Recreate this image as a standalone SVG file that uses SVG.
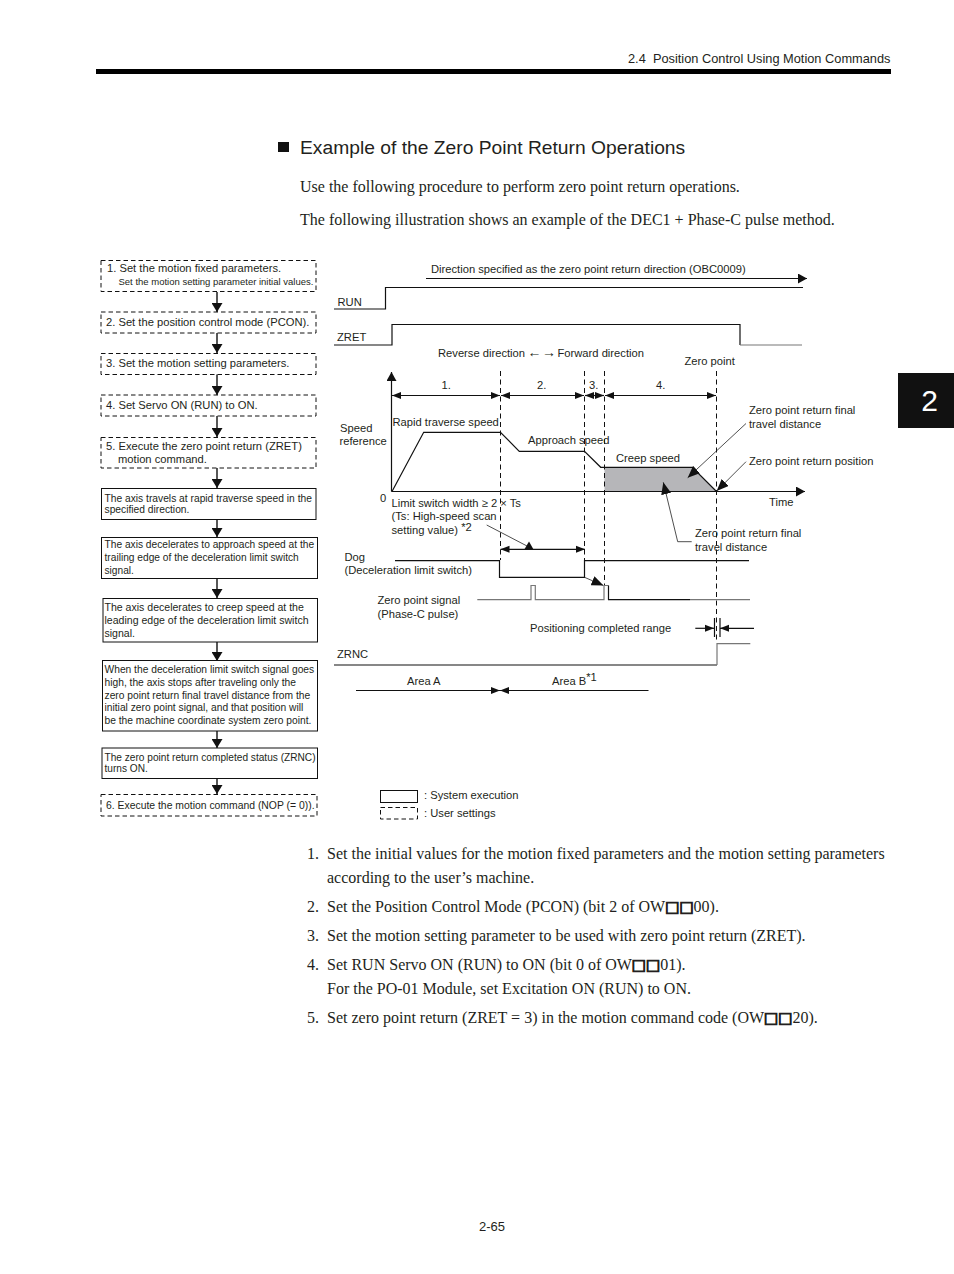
<svg xmlns="http://www.w3.org/2000/svg" width="954" height="1274" viewBox="0 0 954 1274">
<style>
text{font-family:"Liberation Sans",Arial,sans-serif;fill:#231f20}
.s{font-size:11.2px}.t{font-size:11.2px}
.b{font-family:"Liberation Serif","Times New Roman",serif;font-size:16px}
.q{font-family:"DejaVu Sans",sans-serif;font-size:15px;stroke:#231f20;stroke-width:1}
.box{fill:#fff;stroke:#111;stroke-width:1}
.dash{fill:#fff;stroke:#111;stroke-width:1;stroke-dasharray:4.5 3}
.ln{fill:none;stroke:#111;stroke-width:1.2}
.fl{fill:none;stroke:#111;stroke-width:1.4}
.gr{fill:none;stroke:#777;stroke-width:1.2}
.thin{fill:none;stroke:#222;stroke-width:.8}
.dv{fill:none;stroke:#111;stroke-width:1;stroke-dasharray:5 3.5}
.h{fill:#111}
</style>
<defs>
<marker id="f" markerWidth="9" markerHeight="11" refX="9" refY="5.500" orient="auto" markerUnits="userSpaceOnUse"><path d="M0 0L9 5.500L0 11Z" fill="#111"/></marker>
<marker id="a" markerWidth="9" markerHeight="10" refX="9" refY="5" orient="auto" markerUnits="userSpaceOnUse"><path d="M0 0L9 5L0 10Z" fill="#111"/></marker>
<marker id="m" markerWidth="9" markerHeight="8" refX="9" refY="4" orient="auto-start-reverse" markerUnits="userSpaceOnUse"><path d="M0 0.500L9 4L0 7.500Z" fill="#111"/></marker>
<marker id="l" markerWidth="12" markerHeight="10" refX="12" refY="5" orient="auto" markerUnits="userSpaceOnUse"><path d="M0 0L12 5L0 10Z" fill="#111"/></marker>
</defs>

<g id="page-header">
<text x="628" y="63" font-size="12.8">2.4&#160; Position Control Using Motion Commands</text>
<rect x="96" y="69" width="795" height="5" fill="#000"/>
<rect x="898" y="373" width="56" height="55" fill="#111"/>
<text x="929.500" y="411" font-size="30" text-anchor="middle" style="fill:#fff">2</text>
</g>

<g id="intro">
<rect x="278" y="142" width="11" height="10" fill="#111"/>
<text x="300" y="154" font-size="19.25">Example of the Zero Point Return Operations</text>
<text class="b" x="300" y="192">Use the following procedure to perform zero point return operations.</text>
<text class="b" x="300" y="225">The following illustration shows an example of the DEC1 + Phase-C pulse method.</text>
</g>

<g id="flow-connectors">
<path class="fl" marker-end="url(#f)" d="M217 292V312"/>
<path class="fl" marker-end="url(#f)" d="M217 333V353"/>
<path class="fl" marker-end="url(#f)" d="M217 374V395"/>
<path class="fl" marker-end="url(#f)" d="M217 416V437"/>
<path class="fl" marker-end="url(#f)" d="M217 468V488"/>
<path class="fl" marker-end="url(#f)" d="M217 519V537"/>
<path class="fl" marker-end="url(#f)" d="M217 579V598"/>
<path class="fl" marker-end="url(#f)" d="M217 642V661"/>
<path class="fl" marker-end="url(#f)" d="M217 731V748"/>
<path class="fl" marker-end="url(#f)" d="M217 778V794"/>
</g>

<g id="step-1"><rect class="dash" x="101" y="260.500" width="215" height="31"/>
<text class="t" x="107" y="272">1. Set the motion fixed parameters.</text>
<text x="118.500" y="285" font-size="9.5">Set the motion setting parameter initial values.</text></g>
<g id="step-2"><rect class="dash" x="101" y="312" width="215" height="21"/>
<text class="t" x="106" y="326">2. Set the position control mode (PCON).</text></g>
<g id="step-3"><rect class="dash" x="101" y="353.500" width="215" height="21"/>
<text class="t" x="106" y="367">3. Set the motion setting parameters.</text></g>
<g id="step-4"><rect class="dash" x="101" y="395" width="215" height="21"/>
<text class="t" x="106" y="409">4. Set Servo ON (RUN) to ON.</text></g>
<g id="step-5"><rect class="dash" x="101" y="437.500" width="215" height="30.500"/>
<text class="t" x="106" y="450">5. Execute the zero point return (ZRET)</text>
<text class="t" x="118" y="463">motion command.</text></g>
<g id="sys-1" font-size="10.25"><rect class="box" x="101.500" y="488.500" width="214.500" height="31"/>
<text x="104.500" y="502">The axis travels at rapid traverse speed in the</text>
<text x="104.500" y="513">specified direction.</text></g>
<g id="sys-2" font-size="10.2"><rect class="box" x="101.500" y="537.500" width="216" height="41"/>
<text x="104.500" y="548">The axis decelerates to approach speed at the</text>
<text x="104.500" y="561">trailing edge of the deceleration limit switch</text>
<text x="104.500" y="574">signal.</text></g>
<g id="sys-3" font-size="10.55"><rect class="box" x="103" y="598.500" width="214.500" height="43.500"/>
<text x="104.500" y="611">The axis decelerates to creep speed at the</text>
<text x="104.500" y="624">leading edge of the deceleration limit switch</text>
<text x="104.500" y="637">signal.</text></g>
<g id="sys-4" font-size="10.25"><rect class="box" x="102.500" y="660.500" width="215" height="70.500"/>
<text x="104.500" y="673">When the deceleration limit switch signal goes</text>
<text x="104.500" y="686">high, the axis stops after traveling only the</text>
<text x="104.500" y="699">zero point return final travel distance from the</text>
<text x="104.500" y="711">initial zero point signal, and that position will</text>
<text x="104.500" y="724">be the machine coordinate system zero point.</text></g>
<g id="sys-5" font-size="10.15"><rect class="box" x="102" y="748" width="215.500" height="30.500"/>
<text x="104.500" y="761">The zero point return completed status (ZRNC)</text>
<text x="104.500" y="772">turns ON.</text></g>
<g id="step-6"><rect class="dash" x="101" y="794.500" width="216" height="21.500"/>
<text x="106" y="809" font-size="10.4">6. Execute the motion command (NOP (= 0)).</text></g>

<g id="timing-connectors">
<path class="ln" marker-end="url(#a)" d="M426 278.500H807"/>
<path class="ln" d="M334 309H385.500V287.500H803"/>
<path class="ln" d="M334 345H392V324.500H740V345"/><path class="gr" d="M740 345H802"/>
<polygon points="604.500,467.300 692.300,467.300 716.500,491.500 604.500,491.500" fill="#b6b6b9"/>
<path class="ln" marker-end="url(#a)" d="M391.500 491.500V372"/>
<path class="ln" marker-end="url(#a)" d="M391.500 491.500H805"/>
<path class="ln" d="M392 491.500L423.700 432.300H500.500L519.300 451.300H584.500L600.700 467.300H692.300L716.500 491.500"/>
<path class="dv" d="M500.500 371V560M584.500 371V560M604.500 371V585M716.500 371V640"/>
<path class="ln" marker-start="url(#m)" marker-end="url(#m)" d="M392 395.500H500"/>
<path class="ln" marker-start="url(#m)" marker-end="url(#m)" d="M501 395.500H584"/>
<path class="ln" marker-start="url(#m)" marker-end="url(#m)" d="M585 395.500H604"/>
<path class="ln" marker-start="url(#m)" marker-end="url(#m)" d="M605 395.500H716"/>
<path class="thin" marker-end="url(#l)" d="M746 423.500L687.700 477.700"/>
<path class="thin" marker-end="url(#l)" d="M746 461.700L716.700 491"/>
<path class="thin" marker-end="url(#l)" d="M691.700 541.700H677.700L663.300 482.300"/>
<path class="thin" d="M486.700 525L527 546"/>
<polygon class="h" points="524.300,549.500 529,541.500 533.500,549.500"/>
<path class="ln" marker-start="url(#m)" marker-end="url(#m)" d="M500.500 549.300H585"/>
<path class="ln" d="M395 560.700H499.500V577.300H584.500V560.700H749"/>
<path class="thin" marker-end="url(#l)" d="M584.500 577.300L603.500 585.500"/>
<path class="gr" d="M477.300 599.700H531V585.500H535.300V599.700H604V585.500H608.500"/>
<path class="ln" d="M608.500 585.500V599.700H690"/><path class="gr" d="M690 599.700H750"/>
<path class="ln" marker-end="url(#m)" d="M695.300 628.300H714"/>
<path class="ln" marker-end="url(#m)" d="M754 628.300H720"/>
<path class="ln" d="M714.500 618V637M720 618V637"/>
<path class="ln" d="M334 665H717"/><path class="gr" d="M717 665V643.700H750.300"/>
<path class="ln" marker-end="url(#m)" d="M356 690.500H500"/>
<path class="ln" marker-end="url(#m)" d="M648.500 690.500H500"/>
</g>

<g id="timing-labels">
<text class="s" x="431" y="273">Direction specified as the zero point return direction (OBC0009)</text>
<text class="s" x="337.500" y="306">RUN</text>
<text class="s" x="337" y="341">ZRET</text>
<text class="s" x="438" y="357">Reverse direction <tspan x="527.500" font-size="14">←</tspan> <tspan x="542" font-size="14">→</tspan> <tspan x="557.500">Forward direction</tspan></text>
<text class="s" x="684.500" y="365">Zero point</text>
<text class="s" x="441.500" y="389">1.</text>
<text class="s" x="537" y="389">2.</text>
<text class="s" x="589" y="389">3.</text>
<text class="s" x="656" y="389">4.</text>
<text class="s" x="340" y="432">Speed</text>
<text class="s" x="339.500" y="445">reference</text>
<text class="s" x="392.500" y="426">Rapid traverse speed</text>
<text class="s" x="528" y="444">Approach speed</text>
<text class="s" x="616" y="462">Creep speed</text>
<text class="s" x="749" y="414">Zero point return final</text>
<text class="s" x="749" y="428">travel distance</text>
<text class="s" x="749" y="465">Zero point return position</text>
<text class="s" x="769" y="506">Time</text>
<text class="s" x="380" y="502">0</text>
<text class="s" x="391.500" y="507">Limit switch width ≥ 2 × Ts</text>
<text class="s" x="391.500" y="520">(Ts: High-speed scan</text>
<text class="s" x="391.500" y="534">setting value) <tspan dy="-3">*2</tspan></text>
<text class="s" x="344.500" y="561">Dog</text>
<text class="s" x="344.500" y="574">(Deceleration limit switch)</text>
<text class="s" x="377.500" y="604">Zero point signal</text>
<text class="s" x="377.500" y="618">(Phase-C pulse)</text>
<text class="s" x="695" y="537">Zero point return final</text>
<text class="s" x="695" y="551">travel distance</text>
<text class="s" x="530" y="632">Positioning completed range</text>
<text class="s" x="337" y="658">ZRNC</text>
<text class="s" x="407" y="685">Area A</text>
<text class="s" x="552" y="685">Area B<tspan dy="-4">*1</tspan></text>
</g>

<g id="legend">
<rect class="box" x="380.500" y="790.500" width="37" height="12"/>
<text class="s" x="424" y="799">: System execution</text>
<rect class="dash" x="380.500" y="807.500" width="37" height="11.500"/>
<text class="s" x="424" y="817">: User settings</text>
</g>

<g id="steps">
<text class="b" x="307" y="859">1.</text><text class="b" x="327" y="859">Set the initial values for the motion fixed parameters and the motion setting parameters</text>
<text class="b" x="327" y="883">according to the user’s machine.</text>
<text class="b" x="307" y="912">2.</text><text class="b" x="327" y="912">Set the Position Control Mode (PCON) (bit 2 of OW<tspan class="q">□□</tspan>00).</text>
<text class="b" x="307" y="941">3.</text><text class="b" x="327" y="941">Set the motion setting parameter to be used with zero point return (ZRET).</text>
<text class="b" x="307" y="970">4.</text><text class="b" x="327" y="970">Set RUN Servo ON (RUN) to ON (bit 0 of OW<tspan class="q">□□</tspan>01).</text>
<text class="b" x="327" y="994">For the PO-01 Module, set Excitation ON (RUN) to ON.</text>
<text class="b" x="307" y="1023">5.</text><text class="b" x="327" y="1023">Set zero point return (ZRET = 3) in the motion command code (OW<tspan class="q">□□</tspan>20).</text>
</g>
<text id="page-number" x="479" y="1231" font-size="13">2-65</text>
</svg>
